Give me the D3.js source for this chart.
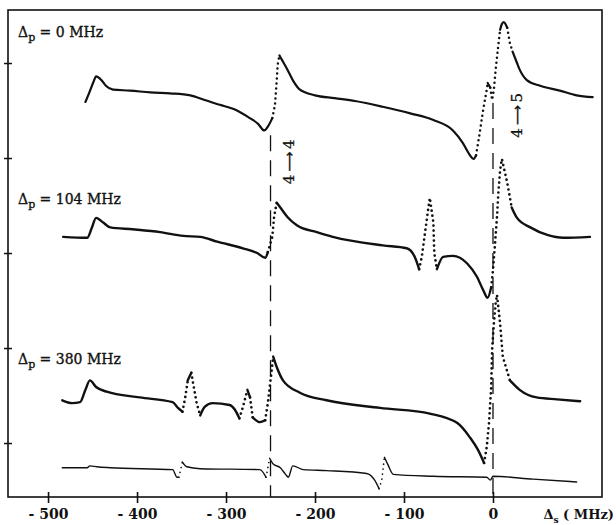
<!DOCTYPE html>
<html>
<head>
<meta charset="utf-8">
<script src="https://cdn.jsdelivr.net/npm/d3@7"></script>
<style>
body { margin: 0; background: #fff; }
svg { display: block; }
</style>
</head>
<body>
<svg id="chart" width="616" height="525"></svg>
<script>
// each trace: [probe detuning Δs (MHz), signal (arb. units)]
var trace_p0 = [
    [-458, 3.59], [-454, 3.68], [-449, 3.80], [-446, 3.86], [-440, 3.82], [-435, 3.76], [-427, 3.72],
    [-408, 3.71], [-385, 3.69], [-363, 3.68], [-340, 3.66], [-324, 3.61], [-307, 3.56], [-290, 3.51],
    [-275, 3.43], [-264, 3.36], [-257, 3.29], [-253, 3.33], [-248, 3.42], [-245, 3.56], [-243, 3.82],
    [-242, 3.98], [-240, 4.08], [-237, 4.03], [-231, 3.93], [-225, 3.82], [-217, 3.72], [-200, 3.66],
    [-178, 3.63], [-155, 3.60], [-124, 3.54], [-93, 3.47], [-67, 3.40], [-45, 3.29], [-34, 3.16],
    [-26, 3.03], [-22, 2.99], [-19, 3.03], [-15, 3.26], [-11, 3.51], [-7, 3.72], [-6, 3.79],
    [-3, 3.74], [-1, 3.61], [1, 3.72], [3, 3.93], [6, 4.19], [8, 4.35], [10, 4.41], [12, 4.43],
    [16, 4.37], [19, 4.21], [22, 4.12], [27, 4.00], [30, 3.93], [38, 3.82], [53, 3.76], [75, 3.71],
    [94, 3.66], [112, 3.64]
];
var trace_p104 = [
    [-483, 2.17], [-456, 2.16], [-451, 2.26], [-446, 2.37], [-438, 2.32], [-430, 2.27], [-405, 2.25],
    [-374, 2.22], [-348, 2.18], [-329, 2.17], [-310, 2.12], [-281, 2.05], [-265, 2.00], [-256, 1.95],
    [-253, 2.01], [-248, 2.17], [-246, 2.38], [-243, 2.53], [-239, 2.48], [-231, 2.38], [-220, 2.29],
    [-198, 2.22], [-180, 2.17], [-124, 2.08], [-97, 2.05], [-88, 1.96], [-83, 1.83], [-80, 1.96],
    [-76, 2.24], [-73, 2.45], [-71, 2.58], [-67, 2.32], [-66, 2.00], [-63, 1.83], [-56, 1.96],
    [-45, 1.97], [-29, 1.89], [-18, 1.75], [-11, 1.61], [-6, 1.53], [-2, 1.64], [0, 1.82],
    [2, 2.06], [4.5, 2.38], [6, 2.63], [8, 2.87], [10, 2.99], [16, 2.74], [21, 2.48], [27, 2.37],
    [42, 2.27], [61, 2.19], [79, 2.16], [109, 2.17]
];
var trace_p380 = [
    [-484, 0.45], [-473, 0.42], [-464, 0.43], [-458, 0.56], [-453, 0.66], [-446, 0.59], [-434, 0.54],
    [-397, 0.48], [-360, 0.43], [-354, 0.37], [-349, 0.33], [-346, 0.47], [-343, 0.66], [-339, 0.74],
    [-337, 0.63], [-333, 0.42], [-329, 0.29], [-324, 0.38], [-315, 0.42], [-296, 0.40], [-290, 0.35],
    [-285, 0.26], [-281, 0.38], [-276, 0.56], [-273, 0.48], [-270, 0.27], [-262, 0.22], [-256, 0.24],
    [-253, 0.42], [-249, 0.74], [-247, 0.91], [-243, 0.80], [-236, 0.66], [-217, 0.53], [-187, 0.45],
    [-127, 0.37], [-71, 0.31], [-40, 0.21], [-26, 0.06], [-17, -0.07], [-10, -0.21], [-7, -0.04],
    [-4.5, 0.21], [-2, 0.59], [-1, 0.98], [1, 1.26], [3, 1.47], [4.5, 1.56], [8, 1.26], [11, 0.91],
    [19, 0.66], [30, 0.56], [49, 0.48], [72, 0.46], [98, 0.44]
];
var trace_ref = [
    [-484, -0.26], [-461, -0.26], [-456, -0.26], [-453, -0.24], [-445, -0.25], [-430, -0.26],
    [-360, -0.28], [-355, -0.36], [-353, -0.36], [-349, -0.20], [-344, -0.25], [-329, -0.27],
    [-262, -0.28], [-255, -0.36], [-251, -0.16], [-247, -0.22], [-239, -0.26], [-233, -0.33],
    [-230, -0.36], [-225, -0.24], [-213, -0.28], [-187, -0.29], [-142, -0.32], [-133, -0.39],
    [-128, -0.48], [-125, -0.39], [-122, -0.15], [-118, -0.23], [-112, -0.33], [-67, -0.35],
    [-7, -0.36], [-3, -0.39], [0, -0.35], [45, -0.38], [94, -0.41]
];
var pump_detunings = ["0", "104", "380"];
var x_ticks = [-500, -400, -300, -200, -100, 0];
var y_ticks = [0, 1, 2, 3, 4];
var transitions = [-250, 0];
var transition_levels = [["4", "4"], ["4", "5"]];

var svg = d3.select("#chart");
var margin = {top: 10, left: 8, bottom: 28, right: 14};
var width = 616, height = 525;
var font = "'DejaVu Serif', serif";

var x = d3.scaleLinear()
    .domain([-545, 122.5])
    .range([margin.left, width - margin.right]);

var y = d3.scaleLinear()
    .domain([-0.568, 4.558])
    .range([height - margin.bottom, margin.top]);

// frame
svg.append("rect")
    .attr("x", margin.left)
    .attr("y", margin.top)
    .attr("width", width - margin.left - margin.right)
    .attr("height", height - margin.top - margin.bottom)
    .attr("fill", "none")
    .attr("stroke", "#111")
    .attr("stroke-width", 1.6);

// axes -------------------------------------------------------------
var xAxis = svg.append("g")
    .attr("transform", `translate(0,${height - margin.bottom})`)
    .call(d3.axisBottom(x).tickValues(x_ticks).tickSizeOuter(0)
        .tickFormat(d => d < 0 ? "- " + (-d) : d));
xAxis.select(".domain").remove();
xAxis.selectAll("line").attr("y1", -5).attr("y2", 6).attr("stroke", "#111").attr("stroke-width", 1.6);
xAxis.selectAll("text")
    .attr("y", 22).attr("dy", 0)
    .attr("font-family", font).attr("font-weight", "bold").attr("font-size", "14px")
    .attr("fill", "#111");

var yAxis = svg.append("g")
    .attr("transform", `translate(${margin.left},0)`)
    .call(d3.axisLeft(y).tickValues(y_ticks).tickSizeOuter(0).tickFormat(""));
yAxis.select(".domain").remove();
yAxis.selectAll("line").attr("x1", -4).attr("x2", 4).attr("stroke", "#111").attr("stroke-width", 1.5);

var xTitle = svg.append("text")
    .attr("x", 614).attr("y", height - margin.bottom + 22)
    .attr("text-anchor", "end")
    .attr("font-family", font).attr("font-weight", "bold").attr("font-size", "13px")
    .attr("fill", "#111");
xTitle.append("tspan").text("\u0394");
xTitle.append("tspan").attr("dy", 4).attr("font-size", "9px").text("s");
xTitle.append("tspan").attr("dy", -4).text(" ( MHz)");

// transition markers ---------------------------------------------------
var marker_top = [3.24, 3.58];
var label_off = [{dx: 18, v: 2.96}, {dx: 24, v: 3.45}];
transitions.forEach(function(t, i) {
    svg.append("line")
        .attr("x1", x(t)).attr("x2", x(t))
        .attr("y1", y(marker_top[i])).attr("y2", height - margin.bottom)
        .attr("stroke", "#111").attr("stroke-width", 1.3)
        .attr("stroke-dasharray", "16,9");
    var lab = svg.append("text")
        .attr("transform", `translate(${x(t) + label_off[i].dx},${y(label_off[i].v)}) rotate(-90)`)
        .attr("text-anchor", "middle").attr("dy", "0.35em")
        .attr("font-family", font).attr("font-size", "15px")
        .attr("fill", "#111").attr("stroke", "#111").attr("stroke-width", 0.3);
    lab.append("tspan").text(transition_levels[i][0]);
    lab.append("tspan").attr("font-family", "'DejaVu Sans', sans-serif").attr("font-size", "14px")
        .text("\u2009\u27F6\u2009");
    lab.append("tspan").text(transition_levels[i][1]);
});

// traces: solid where the scan is slow, dotted where the signal jumps
var smooth = d3.line().curve(d3.curveMonotoneX);
var straight = d3.line();
function drawTrace(data, sw) {
    var pts = data.map(d => [x(d[0]), y(d[1])]);
    var runs = [], cur = null;
    for (var i = 0; i < pts.length - 1; i++) {
        var dx = pts[i + 1][0] - pts[i][0], dy = pts[i + 1][1] - pts[i][1];
        var steep = Math.abs(dy) > 3.2 * Math.abs(dx) && Math.abs(dy) > 6;
        if (!cur || cur.steep != steep) {
            cur = {steep: steep, pts: [pts[i]]};
            runs.push(cur);
        }
        cur.pts.push(pts[i + 1]);
    }
    var g = svg.append("g");
    runs.forEach(function(r) {
        g.append("path")
            .attr("d", r.steep ? straight(r.pts) : smooth(r.pts))
            .attr("fill", "none")
            .attr("stroke", "#111")
            .attr("stroke-linejoin", "round")
            .attr("stroke-linecap", "round")
            .attr("stroke-width", r.steep ? sw + 0.3 : sw)
            .attr("stroke-dasharray", r.steep ? "0,5" : null);
    });
}
drawTrace(trace_p0, 2.2);
drawTrace(trace_p104, 2.4);
drawTrace(trace_p380, 2.4);
drawTrace(trace_ref, 1.4);

// pump detuning labels
var label_base = [37, 204, 364];
pump_detunings.forEach(function(p, i) {
    var t = svg.append("text")
        .attr("x", 18).attr("y", label_base[i])
        .attr("font-family", font).attr("font-size", "14px")
        .attr("fill", "#111").attr("stroke", "#111").attr("stroke-width", 0.35);
    t.append("tspan").text("\u0394");
    t.append("tspan").attr("dy", 4).attr("font-size", "11px").text("p");
    t.append("tspan").attr("dy", -4).text(" = " + p + " MHz");
});
</script>
</body>
</html>
